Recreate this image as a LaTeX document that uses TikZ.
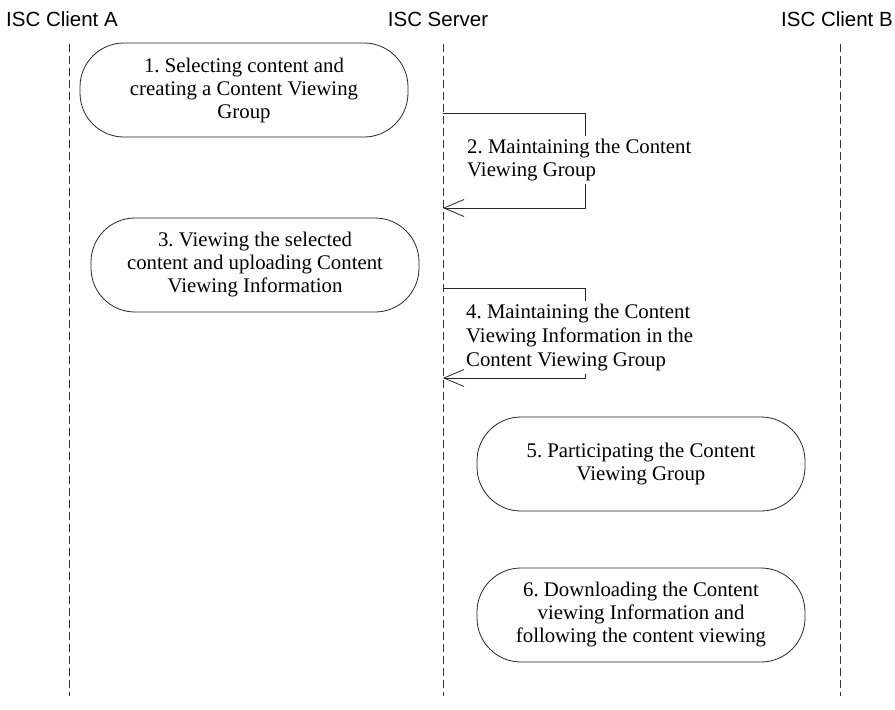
\documentclass[tikz,border=0pt]{standalone}
\usepackage{fontspec}
\setmainfont{Liberation Serif}
\setsansfont{Liberation Sans}
\usetikzlibrary{arrows.meta}
\begin{document}
\frenchspacing
\begin{tikzpicture}[x=1pt,y=-1pt,
  lifeline/.style={draw=black!80,line width=0.8pt,dash pattern=on 8pt off 4pt},
  actor/.style={font=\sffamily\fontsize{20.5}{24}\selectfont,anchor=base,inner sep=0pt},
  stepbox/.style={draw=black!85,line width=0.8pt,rounded corners=44pt,
    minimum width=328pt,minimum height=94pt,align=center,
    font=\fontsize{20.8}{23}\selectfont,inner sep=0pt},
  selfmsg/.style={draw=black!85,line width=0.8pt,-{Straight Barb[length=20pt,width=17pt,line width=0.8pt]}},
  msglabel/.style={anchor=north west,align=left,fill=white,inner xsep=0pt,inner ysep=3pt}]
\useasboundingbox (0,0) rectangle (895,710);

% participants
\node[actor] (ca) at (62,26) {ISC Client A};
\node[actor] (sv) at (438,26) {ISC Server};
\node[actor] (cb) at (837,26) {ISC Client B};

% lifelines
\coordinate (caTop) at (69,44);  \coordinate (caBot) at (69,696);
\coordinate (svTop) at (443,44); \coordinate (svBot) at (443,696);
\coordinate (cbTop) at (840,44); \coordinate (cbBot) at (840,696);
\draw[lifeline] (caTop) -- (caBot);
\draw[lifeline] (svTop) -- (svBot);
\draw[lifeline] (cbTop) -- (cbBot);

% activities
\node[stepbox] (s1) at (244,90) {1. Selecting content and\\creating a Content Viewing\\Group};
\node[stepbox] (s3) at (255,265) {3. Viewing the selected\\content and uploading Content\\Viewing Information};
\node[stepbox] (s5) at (641,464) {5. Participating the Content\\Viewing Group};
\node[stepbox] (s6) at (641,615) {6. Downloading the Content\\viewing Information and\\following the content viewing};

% server self-messages; their labels are filled white over the return line
\coordinate (m2a) at (443,113);
\coordinate (m2b) at (443,208);
\draw[selfmsg] (m2a) -- (585,113) -- (585,208) -- (m2b);
\node[msglabel,font=\fontsize{20.8}{23}\selectfont] (l2) at (467,136) {2. Maintaining the Content\\Viewing Group};

\coordinate (m4a) at (443,288);
\coordinate (m4b) at (443,378);
\draw[selfmsg] (m4a) -- (585,288) -- (585,378) -- (m4b);
\node[msglabel,font=\fontsize{20.8}{24}\selectfont] (l4) at (466,301) {4. Maintaining the Content\\Viewing Information in the\\Content Viewing Group};
\end{tikzpicture}
\end{document}
